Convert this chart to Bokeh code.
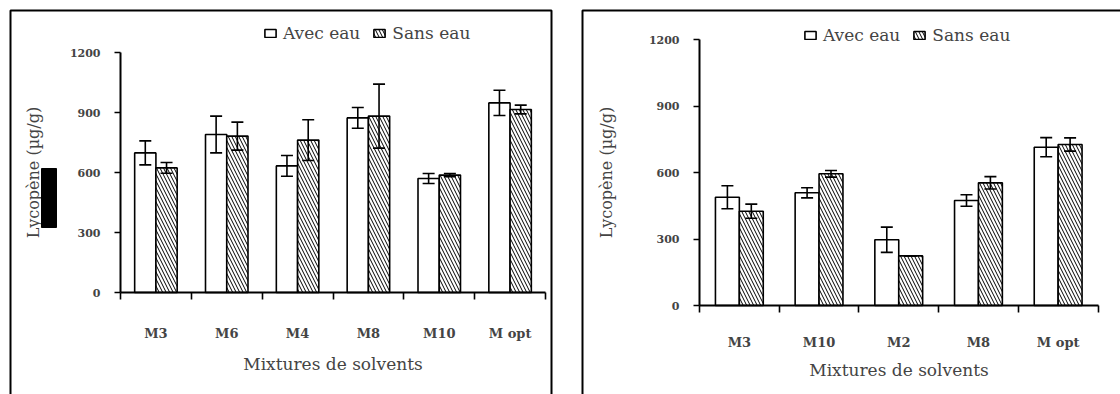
from bokeh.plotting import figure
from bokeh.models import (Range1d, FixedTicker, ColumnDataSource, Whisker, TeeHead,
                          Legend, LegendItem, BoxAnnotation, LinearAxis)
from bokeh.layouts import row
from bokeh.embed import file_html
from bokeh.resources import INLINE

# ---- data ----
cats_a = ["M3", "M6", "M4", "M8", "M10", "M opt"]
avec_a = [698, 790, 633, 873, 570, 948]
avec_a_err = [60, 92, 52, 52, 25, 63]
sans_a = [623, 782, 762, 882, 587, 915]
sans_a_err = [27, 70, 102, 160, 8, 22]

cats_b = ["M3", "M10", "M2", "M8", "M opt"]
avec_b = [489, 509, 297, 474, 715]
avec_b_err = [52, 23, 57, 26, 43]
sans_b = [426, 595, 224, 554, 727]
sans_b_err = [32, 15, 0, 28, 30]

y_ticks = [0, 300, 600, 900, 1200]
series_names = ["Avec eau", "Sans eau"]
x_title = "Mixtures de solvents"
y_title = "Lycopène (µg/g)"

FONT = "DejaVu Serif"
W, H = 560, 394
YMAX = 1200


def make_panel(cats, avec, avec_err, sans, sans_err, geo):
    n = len(cats)
    # pixel geometry of the plotting area inside the full-canvas frame
    x0, x1, ytop, ybot = geo["plot"]
    sx = (x1 - x0) / n
    sy = (ybot - ytop) / YMAX
    xr = Range1d(-x0 / sx, n + (W - x1) / sx)
    yr = Range1d(-(H - ybot) / sy, YMAX + ytop / sy)
    p = figure(width=W, height=H, output_backend="svg", toolbar_location=None,
               x_range=xr, y_range=yr, x_axis_location=None, y_axis_location=None,
               min_border=0)
    p.outline_line_color = None
    p.xgrid.visible = False
    p.ygrid.visible = False
    p.background_fill_color = "white"
    p.border_fill_color = "white"

    centers = [i + 0.5 for i in range(n)]
    bw = 0.3
    xa = [c - bw / 2 for c in centers]
    xs = [c + bw / 2 for c in centers]
    src_a = ColumnDataSource(dict(x=xa, top=avec,
                                  lo=[v - e for v, e in zip(avec, avec_err)],
                                  hi=[v + e for v, e in zip(avec, avec_err)]))
    src_s = ColumnDataSource(dict(x=xs, top=sans,
                                  lo=[v - e for v, e in zip(sans, sans_err)],
                                  hi=[v + e for v, e in zip(sans, sans_err)]))
    r_a = p.vbar(x="x", top="top", width=bw, source=src_a, fill_color="white",
                 line_color="black", line_width=1.6)
    r_s = p.vbar(x="x", top="top", width=bw, source=src_s, fill_color="white",
                 line_color="black", line_width=1.6, hatch_pattern="\\",
                 hatch_color="black", hatch_scale=7, hatch_weight=1.0)
    for src in (src_a, src_s):
        w = Whisker(base="x", upper="hi", lower="lo", source=src, dimension="height",
                    line_color="black", line_width=1.6, level="overlay",
                    upper_head=TeeHead(size=12, line_width=1.6, line_color="black"),
                    lower_head=TeeHead(size=12, line_width=1.6, line_color="black"))
        p.add_layout(w)

    # y axis
    ya = LinearAxis(fixed_location=0, bounds=(0, YMAX))
    ya.ticker = FixedTicker(ticks=y_ticks, minor_ticks=[])
    ya.axis_line_width = 2
    ya.major_tick_line_width = 1.6
    ya.major_tick_in = 0
    ya.major_tick_out = 6
    ya.minor_tick_line_color = None
    ya.major_label_text_font = FONT
    ya.major_label_text_font_size = "11px"
    ya.major_label_text_font_style = "bold"
    ya.major_label_standoff = geo["ystand"]
    ya.axis_label = y_title
    ya.axis_label_text_font = FONT
    ya.axis_label_text_font_size = "16px"
    ya.axis_label_text_font_style = "normal"
    ya.axis_label_standoff = geo["ylab"]
    p.add_layout(ya, "left")

    # x axis: labels at centers, tick marks at category boundaries
    xa_ax = LinearAxis(fixed_location=0, bounds=(0, n))
    xa_ax.ticker = FixedTicker(ticks=centers, minor_ticks=list(range(n + 1)))
    xa_ax.major_label_overrides = {c: name for c, name in zip(centers, cats)}
    xa_ax.axis_line_width = 2
    xa_ax.major_tick_line_color = None
    xa_ax.minor_tick_line_width = 1.6
    xa_ax.minor_tick_in = 0
    xa_ax.minor_tick_out = 7
    xa_ax.major_label_text_font = FONT
    xa_ax.major_label_text_font_size = "13px"
    xa_ax.major_label_text_font_style = "bold"
    xa_ax.major_label_standoff = geo["xstand"]
    xa_ax.axis_label = x_title
    xa_ax.axis_label_text_font = FONT
    xa_ax.axis_label_text_font_size = "17px"
    xa_ax.axis_label_text_font_style = "normal"
    xa_ax.axis_label_standoff = geo["xlab"]
    p.add_layout(xa_ax, "below")

    legend = Legend(items=[LegendItem(label=series_names[0], renderers=[r_a]),
                           LegendItem(label=series_names[1], renderers=[r_s])],
                    orientation="horizontal", location=geo["leg"],
                    padding=0, margin=0, spacing=12, label_standoff=6,
                    glyph_width=14, glyph_height=10, label_height=12,
                    border_line_color=None, background_fill_alpha=0,
                    label_text_font=FONT, label_text_font_size="17px")
    p.add_layout(legend, "center")

    # panel border
    box = BoxAnnotation(left=geo["box"][0], right=geo["box"][1], top=geo["box"][2],
                        bottom=geo["box"][3], left_units="canvas", right_units="canvas",
                        top_units="canvas", bottom_units="canvas",
                        fill_alpha=0, line_color="black", line_alpha=1, line_width=2)
    p.add_layout(box)
    return p


geo_a = dict(plot=(120, 545, 52, 292), ystand=14, ylab=24, xstand=26, xlab=10,
             leg=(263, 351), box=(10, 551, 10, 420))
geo_b = dict(plot=(139, 537.5, 39.3, 305), ystand=14, ylab=30, xstand=22, xlab=7,
             leg=(243, 349), box=(22, 600, 10, 420))

p1 = make_panel(cats_a, avec_a, avec_a_err, sans_a, sans_a_err, geo_a)
blk = BoxAnnotation(left=41, right=56, top=168, bottom=227, left_units="canvas",
                    right_units="canvas", top_units="canvas", bottom_units="canvas",
                    fill_color="black", fill_alpha=1, line_color="black", line_alpha=1)
p1.add_layout(blk)
p2 = make_panel(cats_b, avec_b, avec_b_err, sans_b, sans_b_err, geo_b)

layout = row(p1, p2, spacing=0)
open("out.html", "w").write(file_html(layout, INLINE))
